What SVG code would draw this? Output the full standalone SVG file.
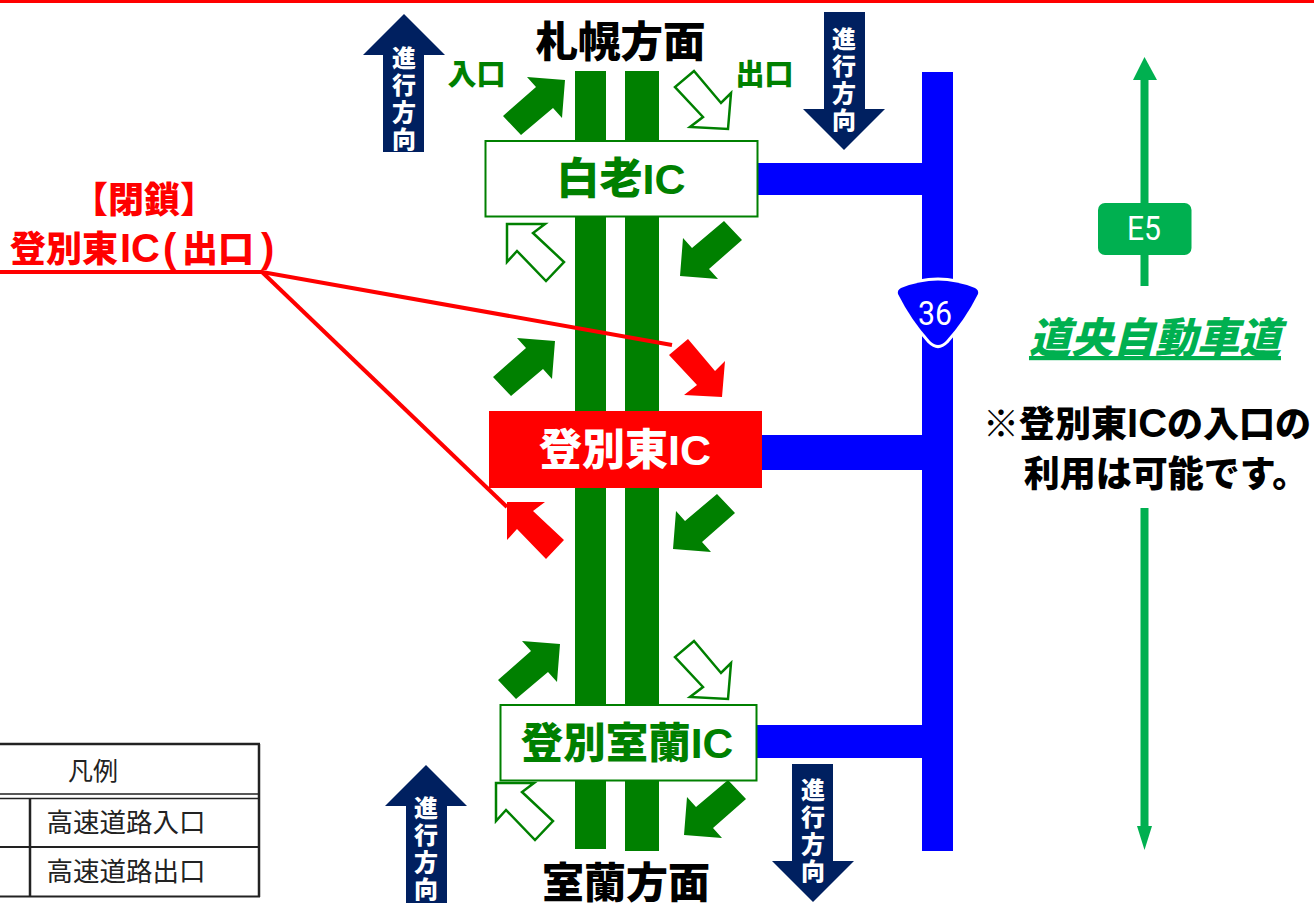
<svg xmlns="http://www.w3.org/2000/svg" xmlns:xlink="http://www.w3.org/1999/xlink" width="1314" height="903" viewBox="0 0 1314 903">
<style>
text{font-family:"Liberation Sans","Noto Sans CJK JP",sans-serif;font-weight:900;text-anchor:middle}
.g{fill:#008000}
.b{fill:#00f}
.navy{fill:#002060}
.dir{fill:#fff;font-size:24px;font-family:"Noto Sans CJK JP",sans-serif;writing-mode:vertical-rl;text-anchor:start;letter-spacing:3px}
.out{fill:#fff;stroke:#008000;stroke-width:2.5}
.red{fill:#f00}
.bk{fill:#000}
.reg{font-weight:400;font-family:"Noto Sans CJK JP",sans-serif;fill:#222}
.ln{stroke:#222;fill:none}
.rl{stroke:#f00;stroke-width:4;fill:none}
.e{fill:#00b050}
.ic{font-size:43px}
.st{text-anchor:start}
.sign{fill:#fff;font-weight:400;font-family:"Roboto","Liberation Sans",sans-serif;font-size:33px}
</style>
<defs>
<polygon id="ne" points="-62,36 -29,7 -38,-3 0,0 -3,38 -12,28 -44,55"/>
<polygon id="sw" points="62,-36 29,-7 38,3 0,0 3,-38 12,-28 44,-55"/>
<polygon id="se" points="0,0 3,-36 -7,-26 -34,-58 -53,-42 -25,-12 -38,-2"/>
<polygon id="nw" points="0,0 38,0 26,9 57,38 39,57 10,27 0,38"/>
</defs>
<rect x="0" y="0" width="1314" height="3" class="red"/>

<g id="roads">
<rect x="575" y="71" width="31" height="778" class="g"/>
<rect x="625" y="71" width="34" height="780" class="g"/>
<rect x="922" y="72" width="31" height="779" class="b"/>
<rect x="757" y="163" width="166" height="32" class="b"/>
<rect x="761" y="435" width="162" height="35" class="b"/>
<rect x="756" y="725" width="167" height="33" class="b"/>
</g>

<g id="connectors">
<polyline class="rl" points="0,272 262,272 672,345"/>
<line class="rl" x1="262" y1="272" x2="507" y2="507"/>
<use xlink:href="#ne" href="#ne" x="565" y="80" class="g"/>
<use xlink:href="#se" href="#se" x="728" y="129" class="out"/>
<use xlink:href="#nw" href="#nw" x="507" y="224" class="out"/>
<use xlink:href="#sw" href="#sw" x="680" y="276" class="g"/>
<use xlink:href="#ne" href="#ne" x="555" y="341" class="g"/>
<use xlink:href="#se" href="#se" x="722" y="397" class="red"/>
<use xlink:href="#nw" href="#nw" x="507" y="502" class="red"/>
<use xlink:href="#sw" href="#sw" x="673" y="549" class="g"/>
<use xlink:href="#ne" href="#ne" x="560" y="644" class="g"/>
<use xlink:href="#se" href="#se" x="728" y="699" class="out"/>
<use xlink:href="#nw" href="#nw" x="496" y="783" class="out"/>
<use xlink:href="#sw" href="#sw" x="684" y="835" class="g"/>
</g>

<g id="ic-shiraoi">
<rect x="485.500" y="141" width="272" height="75.500" fill="#fff" stroke="#008000" stroke-width="2"/>
<text x="621" y="194" class="g ic">白老IC</text>
</g>
<g id="ic-noboribetsu-higashi">
<rect x="489" y="411" width="273" height="77" class="red"/>
<text x="625" y="465" class="ic" fill="#fff">登別東IC</text>
</g>
<g id="ic-noboribetsu-muroran">
<rect x="500.500" y="705" width="256" height="75.500" fill="#fff" stroke="#008000" stroke-width="2"/>
<text x="627" y="758" class="g" font-size="42.500">登別室蘭IC</text>
</g>

<g id="dir-up-1">
<polygon class="navy" points="404,14 445,55 424,55 424,152 383,152 383,55 363,55"/>
<text class="dir" x="404" y="46">進行方向</text>
</g>
<g id="dir-down-1">
<polygon class="navy" points="824,12 865,12 865,109 885,109 844,150 803,109 824,109"/>
<text class="dir" x="844" y="27">進行方向</text>
</g>
<g id="dir-up-2">
<polygon class="navy" points="426,765 467,806 447,806 447,903 406,903 406,806 385,806"/>
<text class="dir" x="426" y="796">進行方向</text>
</g>
<g id="dir-down-2">
<polygon class="navy" points="792,764 833,764 833,861 854,861 813,902 772,861 792,861"/>
<text class="dir" x="813" y="778">進行方向</text>
</g>

<g id="labels">
<text x="620.500" y="57" font-size="42.500" class="bk">札幌方面</text>
<text x="626" y="898" font-size="42" class="bk">室蘭方面</text>
<text x="476.500" y="85" font-size="29" class="g">入口</text>
<text x="764.500" y="85" font-size="29" class="g">出口</text>
<text x="144" y="213" font-size="36" class="red">【閉鎖】</text>
<text y="262" font-size="36" class="red st"><tspan x="10">登別東</tspan><tspan x="120" font-size="40">IC</tspan><tspan x="163" font-size="40">(</tspan><tspan x="182">出口</tspan><tspan x="261" font-size="40">)</tspan></text>
<text y="437" font-size="36" class="bk st" x="983">※登別東<tspan font-size="40">IC</tspan>の入口の</text>
<text x="1166" y="487" font-size="36" class="bk">利用は可能です。</text>
</g>

<g id="route-36">
<path d="M898,294 Q897,290 901,288 Q938,273 975,288 Q979,290 978,294 Q965,320 946,341 Q938,349 930,341 Q911,320 898,294 Z" class="b" stroke="#fff" stroke-width="6" paint-order="stroke"/>
<text x="935" y="325" class="sign" textLength="34" lengthAdjust="spacingAndGlyphs">36</text>
</g>

<g id="expressway">
<rect x="1140.500" y="78" width="8" height="208" class="e"/>
<polygon class="e" points="1144.500,57 1157,80 1133,80"/>
<rect x="1140.500" y="508" width="8" height="320" class="e"/>
<polygon class="e" points="1144.500,850 1137,826 1152,826"/>
<rect x="1098" y="203" width="93.500" height="52" rx="7" class="e"/>
<text x="1144" y="240" class="sign" textLength="34" lengthAdjust="spacingAndGlyphs">E5</text>
<text x="1155" y="353" font-size="42" class="e" font-style="italic" text-decoration="underline">道央自動車道</text>
</g>

<g id="legend">
<path class="ln" stroke-width="2.500" d="M0,744H260M259,744V897M30,798V897"/>
<path class="ln" stroke-width="1.500" d="M0,794H260M0,798.500H260"/>
<path class="ln" stroke-width="2" d="M0,847H260M0,896.500H260"/>
<text x="93" y="780" font-size="25" class="reg">凡例</text>
<text x="126" y="832" font-size="26.500" class="reg">高速道路入口</text>
<text x="126" y="881" font-size="26.500" class="reg">高速道路出口</text>
</g>
</svg>
